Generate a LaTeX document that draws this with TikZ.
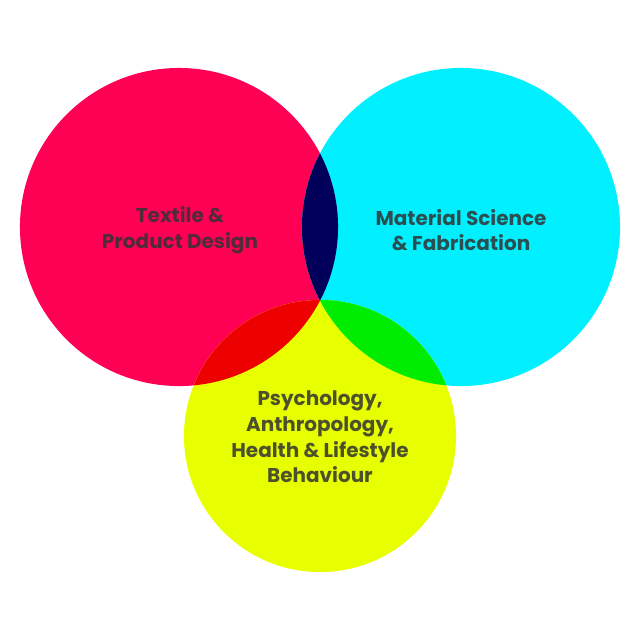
\documentclass[tikz,border=0pt]{standalone}
\usepackage{fontspec}
\setmainfont{Poppins}
\definecolor{textilepink}{HTML}{FF0055}
\definecolor{materialcyan}{HTML}{00F0FF}
\definecolor{psychyellow}{HTML}{E8FF00}
\definecolor{overlapnavy}{HTML}{00005A}
\definecolor{overlapred}{HTML}{EC0000}
\definecolor{overlapgreen}{HTML}{00EC00}
\definecolor{labelgray}{HTML}{333333}

\begin{document}
\begin{tikzpicture}[x=0.025cm,y=-0.025cm,
    subject/.style={font=\bfseries\fontsize{14.2}{18.3}\selectfont, text=labelgray, text opacity=0.85, align=center}]
  \useasboundingbox (0,0) rectangle (640,640);
  % centres of the three fields
  \coordinate (textile) at (179,227);
  \coordinate (material) at (461,227);
  \coordinate (psych) at (320,436);
  % the discs
  \fill[textilepink] (textile) circle[radius=3.975cm];
  \fill[materialcyan] (material) circle[radius=3.975cm];
  \fill[psychyellow] (psych) circle[radius=3.4cm];
  % the overlaps
  \begin{scope}
    \clip (textile) circle[radius=3.975cm];
    \fill[overlapnavy] (material) circle[radius=3.975cm];
    \fill[overlapred] (psych) circle[radius=3.4cm];
  \end{scope}
  \begin{scope}
    \clip (material) circle[radius=3.975cm];
    \fill[overlapgreen] (psych) circle[radius=3.4cm];
  \end{scope}
  % the labels
  \node[subject] (textileLabel) at (180,230) {Textile \&\\Product Design};
  \node[subject] (materialLabel) at (461,230) {Material Science\\\& Fabrication};
  \node[subject] (psychLabel) at (320,437) {Psychology,\\Anthropology,\\Health \& Lifestyle\\Behaviour};
\end{tikzpicture}
\end{document}
